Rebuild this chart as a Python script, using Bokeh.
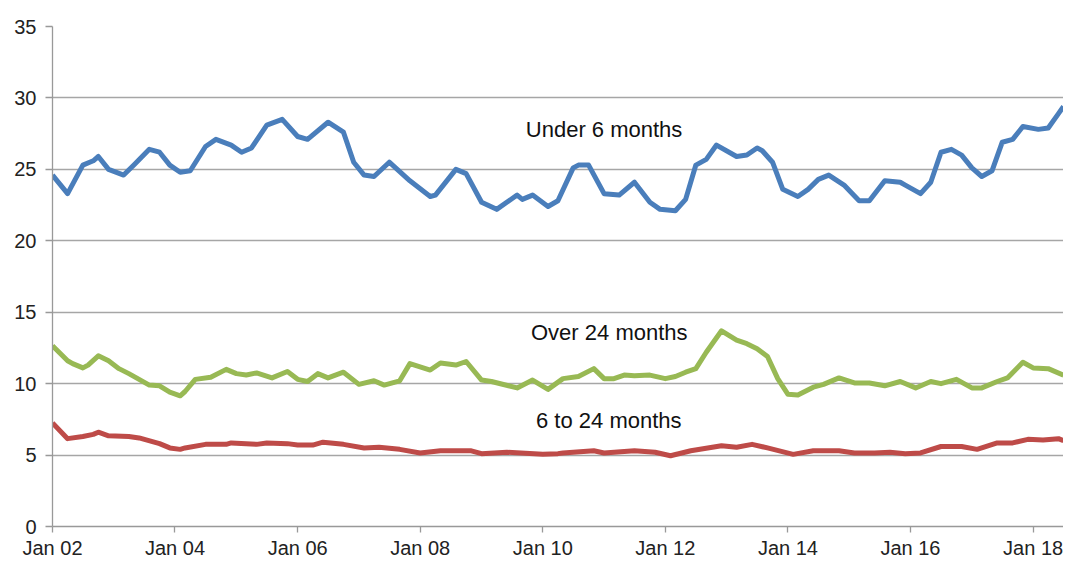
import pandas as pd
from bokeh.plotting import figure
from bokeh.models import FixedTicker, DatetimeTickFormatter, Range1d, Label
from bokeh.embed import file_html
from bokeh.resources import INLINE

START = pd.Timestamp("2002-01-01")

# month offsets from Jan 2002 and values
under6_months = [0, 3, 6, 8, 9, 11, 14, 16, 19, 21, 23, 25, 27, 30, 32, 35, 37, 39, 42, 45,
                 48, 50, 54, 57, 59, 61, 63, 66, 70, 74, 75, 79, 81, 84, 87, 91, 92, 94, 97, 99,
                 102, 103, 105, 108, 111, 114, 117, 119, 122, 124, 126, 128, 130, 134, 136, 138,
                 139, 141, 143, 146, 148, 150, 152, 155, 158, 160, 163, 166, 167, 170, 172, 174,
                 176, 178, 180, 182, 184, 186, 188, 190, 193, 195, 197, 198]
under6_values = [24.6, 23.3, 25.3, 25.6, 25.9, 25.0, 24.6, 25.3, 26.4, 26.2, 25.3, 24.8, 24.9,
                 26.6, 27.1, 26.7, 26.2, 26.5, 28.1, 28.5, 27.3, 27.1, 28.3, 27.6, 25.5, 24.6,
                 24.5, 25.5, 24.2, 23.1, 23.2, 25.0, 24.7, 22.7, 22.2, 23.2, 22.9, 23.2, 22.4,
                 22.8, 25.1, 25.3, 25.3, 23.3, 23.2, 24.1, 22.7, 22.2, 22.1, 22.9, 25.3, 25.7,
                 26.7, 25.9, 26.0, 26.5, 26.3, 25.5, 23.6, 23.1, 23.6, 24.3, 24.6, 23.9, 22.8,
                 22.8, 24.2, 24.1, 23.9, 23.3, 24.1, 26.2, 26.4, 26.0, 25.1, 24.5, 24.9, 26.9,
                 27.1, 28.0, 27.8, 27.9, 28.9, 29.4]

over24_months = [0, 3, 4, 6, 7, 9, 11, 13, 15, 19, 21, 23, 25, 26, 28, 31, 34, 36, 38, 40, 43,
                 46, 48, 50, 52, 54, 57, 60, 63, 65, 68, 70, 74, 76, 79, 81, 84, 86, 91, 94, 97,
                 100, 103, 106, 108, 110, 112, 114, 117, 120, 122, 124, 126, 128, 131, 134, 136,
                 138, 140, 142, 144, 146, 149, 151, 154, 157, 160, 163, 166, 169, 172, 174, 177,
                 180, 182, 185, 187, 190, 192, 195, 198]
over24_values = [12.65, 11.6, 11.4, 11.1, 11.3, 11.95, 11.6, 11.05, 10.7, 9.9, 9.85, 9.4, 9.15,
                 9.45, 10.3, 10.45, 11.0, 10.7, 10.6, 10.75, 10.4, 10.85, 10.3, 10.15, 10.7, 10.4,
                 10.8, 9.95, 10.2, 9.9, 10.2, 11.4, 10.95, 11.45, 11.3, 11.55, 10.25, 10.15, 9.7,
                 10.25, 9.6, 10.35, 10.5, 11.05, 10.35, 10.35, 10.6, 10.55, 10.6, 10.35, 10.5,
                 10.8, 11.05, 12.2, 13.7, 13.05, 12.8, 12.45, 11.9, 10.35, 9.25, 9.2, 9.75, 9.95,
                 10.4, 10.05, 10.05, 9.85, 10.15, 9.7, 10.15, 10.0, 10.3, 9.7, 9.7, 10.15, 10.4,
                 11.5, 11.1, 11.05, 10.6]

mid_months = [0, 3, 6, 8, 9, 11, 15, 17, 21, 23, 25, 26, 30, 34, 35, 40, 42, 46, 48, 51, 53,
              57, 61, 64, 68, 72, 76, 82, 84, 89, 96, 99, 100, 106, 108, 114, 118, 121, 125, 131,
              134, 137, 140, 145, 149, 154, 157, 161, 164, 167, 170, 174, 178, 181, 185, 188,
              191, 194, 197, 198]
mid_values = [7.25, 6.15, 6.3, 6.45, 6.6, 6.35, 6.3, 6.2, 5.8, 5.5, 5.4, 5.5, 5.75, 5.75, 5.85,
              5.75, 5.85, 5.8, 5.7, 5.7, 5.9, 5.75, 5.5, 5.55, 5.4, 5.15, 5.3, 5.3, 5.1, 5.2,
              5.05, 5.1, 5.15, 5.3, 5.15, 5.3, 5.2, 4.95, 5.3, 5.65, 5.55, 5.75, 5.5, 5.05, 5.3,
              5.3, 5.15, 5.15, 5.2, 5.1, 5.15, 5.6, 5.6, 5.4, 5.85, 5.85, 6.1, 6.05, 6.15, 6.0]

tick_years = [2002, 2004, 2006, 2008, 2010, 2012, 2014, 2016, 2018]
y_ticks = [0, 5, 10, 15, 20, 25, 30, 35]

series_labels = ["Under 6 months", "Over 24 months", "6 to  24 months"]
label_months = [108, 109, 109.5]
label_values = [27.8, 13.55, 7.45]


def to_dates(months):
    return [START + pd.DateOffset(months=int(m)) for m in months]


def ms(ts):
    return ts.value // 10**6


FONT = "Liberation Sans"

p = figure(width=1063, height=561, x_axis_type="datetime",
           output_backend="svg", toolbar_location=None,
           min_border_left=52, min_border_right=0, min_border_top=26, min_border_bottom=34)

end_date = START + pd.DateOffset(months=max(under6_months))
p.x_range = Range1d(ms(START), ms(end_date))
p.y_range = Range1d(0, 35)

p.line(to_dates(under6_months), under6_values, line_color="#4a7ebb", line_width=5, line_join="round")
p.line(to_dates(over24_months), over24_values, line_color="#98b954", line_width=5, line_join="round")
p.line(to_dates(mid_months), mid_values, line_color="#be4b48", line_width=5, line_join="round")

for txt, m, v in zip(series_labels, label_months, label_values):
    x = ms(START + pd.DateOffset(months=int(m))) + (m - int(m)) * 30.4 * 86400000
    p.add_layout(Label(x=x, y=v, text=txt, text_align="center", text_baseline="middle",
                       text_font=FONT, text_font_size="22px", text_color="#111111"))

p.outline_line_color = None
p.xgrid.grid_line_color = None
p.ygrid.grid_line_color = "#a6a6a6"
p.ygrid.grid_line_width = 1.3

p.xaxis.ticker = FixedTicker(ticks=[ms(pd.Timestamp(f"{y}-01-01")) for y in tick_years])
fmt = "%b %y"
p.xaxis.formatter = DatetimeTickFormatter(years=fmt, months=fmt, days=fmt, hours=fmt,
                                          hourmin=fmt, minutes=fmt, minsec=fmt, seconds=fmt,
                                          milliseconds=fmt, microseconds=fmt)
p.yaxis.ticker = FixedTicker(ticks=y_ticks)

for ax in (p.xaxis, p.yaxis):
    ax.axis_line_color = "#999999"
    ax.axis_line_width = 1.3
    ax.major_tick_line_color = "#999999"
    ax.major_tick_line_width = 1.3
    ax.major_tick_in = 0
    ax.minor_tick_line_color = None
    ax.major_label_text_font = FONT
    ax.major_label_text_font_size = "20px"
    ax.major_label_text_color = "#222222"

p.xaxis.major_tick_out = 6
p.xaxis.major_label_standoff = 4
p.yaxis.major_tick_out = 7
p.yaxis.major_label_standoff = 9

open("out.html", "w").write(file_html(p, INLINE))
